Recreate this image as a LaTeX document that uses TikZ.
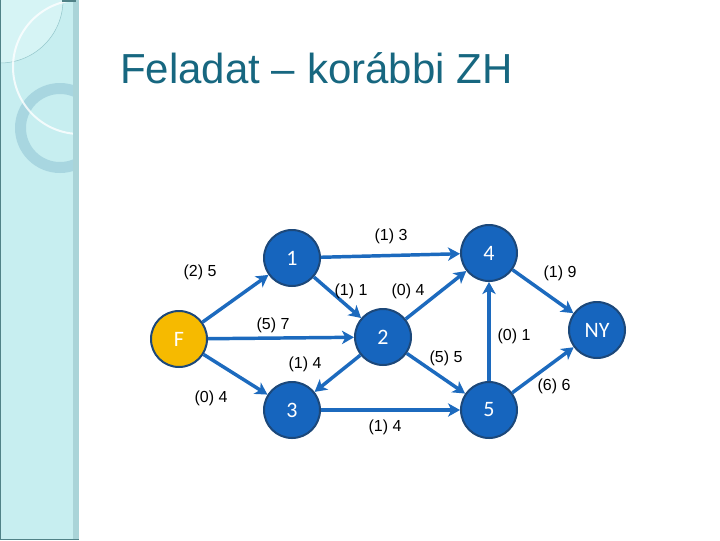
\documentclass[tikz,border=0pt]{standalone}
\usepackage{fontspec}
\setmainfont{Liberation Sans}
\newfontfamily\vertexfont{Carlito}
\usetikzlibrary{arrows.meta}
\definecolor{barcyan}{RGB}{199,238,240}
\definecolor{barlight}{RGB}{214,244,245}
\definecolor{barline}{RGB}{150,200,205}
\definecolor{barstrip}{RGB}{170,212,216}
\definecolor{baredge}{RGB}{80,130,135}
\definecolor{ringteal}{RGB}{168,214,224}
\definecolor{titleteal}{RGB}{23,103,128}
\definecolor{vertexblue}{RGB}{22,101,190}
\definecolor{vertexrim}{RGB}{28,72,122}
\definecolor{sourceamber}{RGB}{246,186,0}
\definecolor{edgeblue}{RGB}{28,106,190}
\tikzset{
TITLE/.style={text=titleteal, inner sep=0pt, font=\fontsize{31.5}{31.5}\selectfont},
VERTEX/.style={circle, draw=vertexrim, line width=1.5pt, fill=vertexblue, minimum size=42pt, inner sep=0pt, text=white, font=\vertexfont\fontsize{16.5}{16.5}\selectfont},
SOURCE/.style={VERTEX, fill=sourceamber},
EDGE/.style={draw=edgeblue, line width=2.6pt, -{Stealth[length=9pt,width=10pt,inset=2.5pt]}},
WEIGHT/.style={inner sep=0pt, font=\fontsize{12}{12}\selectfont},
}
\begin{document}
\begin{tikzpicture}
[x=0.75pt, y=-0.75pt]
	\useasboundingbox (0,0) rectangle (720,540);
	\fill[white] (0,0) rectangle (720,540);
	\begin{scope}
		\clip (0,0) rectangle (77,540);
		\fill[barcyan] (0,0) rectangle (77,540);
		\fill[barlight] (0,0) circle (63);
		\draw[barline, line width=0.4pt] (0,0) circle (63);
		\fill[ringteal, even odd rule] (60,128) circle (45) (60,128) circle (34);
		\draw[white, opacity=0.8, line width=1.5pt] (80,67) circle (67);
	\end{scope}
	\fill[barstrip] (73,0) rectangle (79,540);
	\fill[baredge] (62,0) rectangle (76,1.5);
	\draw[baredge, line width=1pt] (0.7,0) -- (0.7,539.3) -- (79,539.3);

	\node[TITLE, anchor=base west] (title) at (120,83) {Feladat – korábbi ZH};

	\node[SOURCE] (F) at (179,339) {F};
	\node[VERTEX] (n1) at (292,258) {1};
	\node[VERTEX] (n2) at (383,337) {2};
	\node[VERTEX] (n3) at (292,410) {3};
	\node[VERTEX] (n4) at (489,253) {4};
	\node[VERTEX] (n5) at (489,410) {5};
	\node[VERTEX] (NY) at (597,330) {NY};

	\path[EDGE] (F) -- (n1);
	\path[EDGE] (F) -- (n2);
	\path[EDGE] (F) -- (n3);
	\path[EDGE] (n1) -- (n4);
	\path[EDGE] (n1) -- (n2);
	\path[EDGE] (n2) -- (n4);
	\path[EDGE] (n2) -- (n3);
	\path[EDGE] (n2) -- (n5);
	\path[EDGE] (n3) -- (n5);
	\path[EDGE] (n5) -- (n4);
	\path[EDGE] (n4) -- (NY);
	\path[EDGE] (n5) -- (NY);

	\node[WEIGHT] (wF1) at (200,272) {(2) 5};
	\node[WEIGHT] (wF2) at (273,325) {(5) 7};
	\node[WEIGHT] (wF3) at (211,398) {(0) 4};
	\node[WEIGHT] (w14) at (391,236) {(1) 3};
	\node[WEIGHT] (w12) at (351,291) {(1) 1};
	\node[WEIGHT] (w24) at (408,291) {(0) 4};
	\node[WEIGHT] (w23) at (305,364) {(1) 4};
	\node[WEIGHT] (w25) at (446,358) {(5) 5};
	\node[WEIGHT] (w35) at (385,427) {(1) 4};
	\node[WEIGHT] (w54) at (514,336) {(0) 1};
	\node[WEIGHT] (w4Y) at (560,273) {(1) 9};
	\node[WEIGHT] (w5Y) at (554,386) {(6) 6};
\end{tikzpicture}
\end{document}
